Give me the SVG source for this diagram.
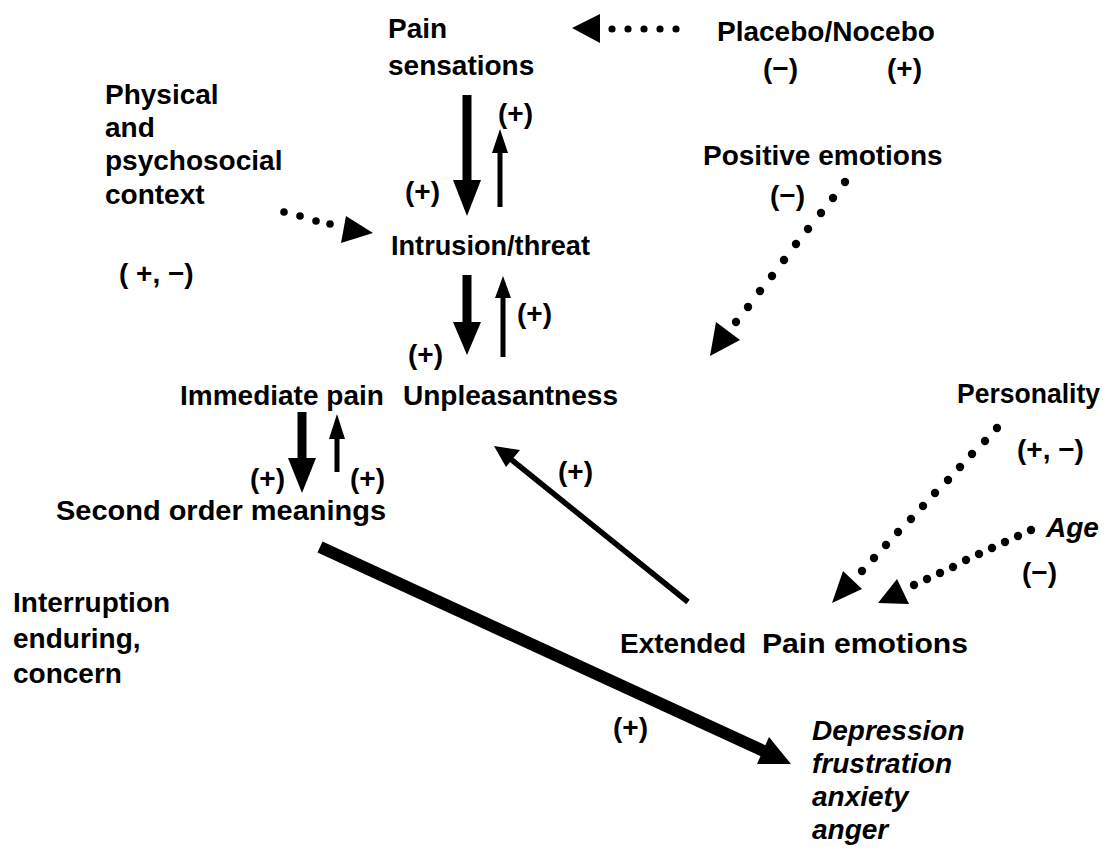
<svg xmlns="http://www.w3.org/2000/svg" width="1107" height="863" viewBox="0 0 1107 863">
<style>
text{font-family:"Liberation Sans",Arial,sans-serif;font-weight:bold;font-size:28px;fill:#000}
.it{font-style:italic}
.dot{fill:#000}
.ln{stroke:#000;fill:none}
.hd{fill:#000}
</style>
<rect width="1107" height="863" fill="#fff"/>
<g id="pain-sensations"><text x="388" y="38">Pain</text><text x="388" y="75">sensations</text></g>
<g id="placebo"><text x="717" y="41">Placebo/Nocebo</text><text x="763" y="78">(−)</text><text x="887" y="78">(+)</text></g>
<g id="physical"><text x="105" y="104">Physical</text><text x="105" y="137">and</text><text x="105" y="170">psychosocial</text><text x="105" y="204">context</text><text x="119" y="283">( +, −)</text></g>
<g id="positive"><text x="703" y="165">Positive emotions</text><text x="770" y="205">(−)</text></g>
<g id="intrusion"><text x="391" y="255" textLength="199" lengthAdjust="spacingAndGlyphs">Intrusion/threat</text></g>
<g id="immediate"><text x="180" y="405">Immediate pain</text><text x="403" y="405" textLength="215" lengthAdjust="spacingAndGlyphs">Unpleasantness</text></g>
<g id="second"><text x="56" y="520" textLength="330" lengthAdjust="spacingAndGlyphs">Second order meanings</text></g>
<g id="interruption"><text x="13" y="612">Interruption</text><text x="13" y="648">enduring,</text><text x="13" y="683">concern</text></g>
<g id="personality"><text x="957" y="403" textLength="143" lengthAdjust="spacingAndGlyphs">Personality</text><text x="1017" y="459">(+, −)</text></g>
<g id="age"><text class="it" x="1046" y="537">Age</text><text x="1022" y="582">(−)</text></g>
<g id="extended"><text x="620" y="653">Extended</text><text x="762" y="653" textLength="206" lengthAdjust="spacingAndGlyphs">Pain emotions</text></g>
<g id="depression"><text class="it" x="812" y="740">Depression</text><text class="it" x="812" y="773">frustration</text><text class="it" x="812" y="806">anxiety</text><text class="it" x="812" y="839">anger</text></g>
<g id="labels">
<text x="498" y="123">(+)</text><text x="405" y="201">(+)</text>
<text x="517" y="323">(+)</text><text x="408" y="364">(+)</text>
<text x="250" y="488">(+)</text><text x="350" y="488">(+)</text>
<text x="558" y="481">(+)</text><text x="613" y="737">(+)</text>
</g>
<g id="connectors">
<line class="ln" x1="467" y1="95" x2="467" y2="182" stroke-width="9"/>
<polygon class="hd" points="453,180 481,180 467,216"/>
<line class="ln" x1="500" y1="207" x2="500" y2="150" stroke-width="5"/>
<polygon class="hd" points="492,153 508,153 500,129"/>
<line class="ln" x1="467" y1="275" x2="467" y2="325" stroke-width="9"/>
<polygon class="hd" points="453,322 481,322 467,355"/>
<line class="ln" x1="503" y1="357" x2="503" y2="295" stroke-width="5"/>
<polygon class="hd" points="495,298 511,298 503,276"/>
<line class="ln" x1="302" y1="412" x2="302" y2="460" stroke-width="9"/>
<polygon class="hd" points="288,458 316,458 302,493"/>
<line class="ln" x1="337" y1="472" x2="337" y2="436" stroke-width="5"/>
<polygon class="hd" points="329,439 345,439 337,414"/>
<g class="dot"><circle cx="612" cy="29" r="3.6"/><circle cx="628" cy="29" r="3.6"/><circle cx="644" cy="29" r="3.6"/><circle cx="660" cy="29" r="3.6"/><circle cx="676" cy="29" r="3.6"/></g>
<polygon class="hd" points="572,28 600,14 600,43"/>
<g class="dot"><circle cx="284" cy="212" r="3.8"/><circle cx="300" cy="216" r="3.8"/><circle cx="316" cy="221" r="3.8"/><circle cx="330" cy="224" r="3.8"/></g>
<polygon class="hd" points="373,233 346,216 341,243"/>
<g class="dot">
<circle cx="845" cy="182" r="4.2"/><circle cx="833" cy="198" r="4.2"/><circle cx="821" cy="213" r="4.2"/><circle cx="808" cy="229" r="4.2"/><circle cx="796" cy="244" r="4.2"/><circle cx="784" cy="260" r="4.2"/><circle cx="772" cy="276" r="4.2"/><circle cx="760" cy="291" r="4.2"/><circle cx="748" cy="307" r="4.2"/><circle cx="736" cy="322" r="4.2"/>
</g>
<polygon class="hd" points="710,356 716,322 740,340"/>
<g class="dot">
<circle cx="997" cy="428" r="4.2"/><circle cx="985" cy="441" r="4.2"/><circle cx="972" cy="454" r="4.2"/><circle cx="960" cy="467" r="4.2"/><circle cx="948" cy="480" r="4.2"/><circle cx="935" cy="493" r="4.2"/><circle cx="923" cy="506" r="4.2"/><circle cx="911" cy="519" r="4.2"/><circle cx="898" cy="532" r="4.2"/><circle cx="886" cy="545" r="4.2"/><circle cx="874" cy="558" r="4.2"/><circle cx="862" cy="571" r="4.2"/>
</g>
<polygon class="hd" points="832,603 843,571 862,589"/>
<g class="dot">
<circle cx="1031" cy="530" r="4.2"/><circle cx="1018" cy="536" r="4.2"/><circle cx="1005" cy="542" r="4.2"/><circle cx="992" cy="548" r="4.2"/><circle cx="979" cy="554" r="4.2"/><circle cx="966" cy="560" r="4.2"/><circle cx="953" cy="567" r="4.2"/><circle cx="940" cy="573" r="4.2"/><circle cx="927" cy="579" r="4.2"/><circle cx="914" cy="585" r="4.2"/>
</g>
<polygon class="hd" points="878,603 897,579 909,604"/>
<line class="ln" x1="688" y1="602" x2="508" y2="457" stroke-width="5.5"/>
<polygon class="hd" points="494,446 520,450 506,467"/>
<line class="ln" x1="320" y1="547" x2="768" y2="753" stroke-width="12"/>
<polygon class="hd" points="791,764 769,737 757,764"/>
</g>
</svg>
